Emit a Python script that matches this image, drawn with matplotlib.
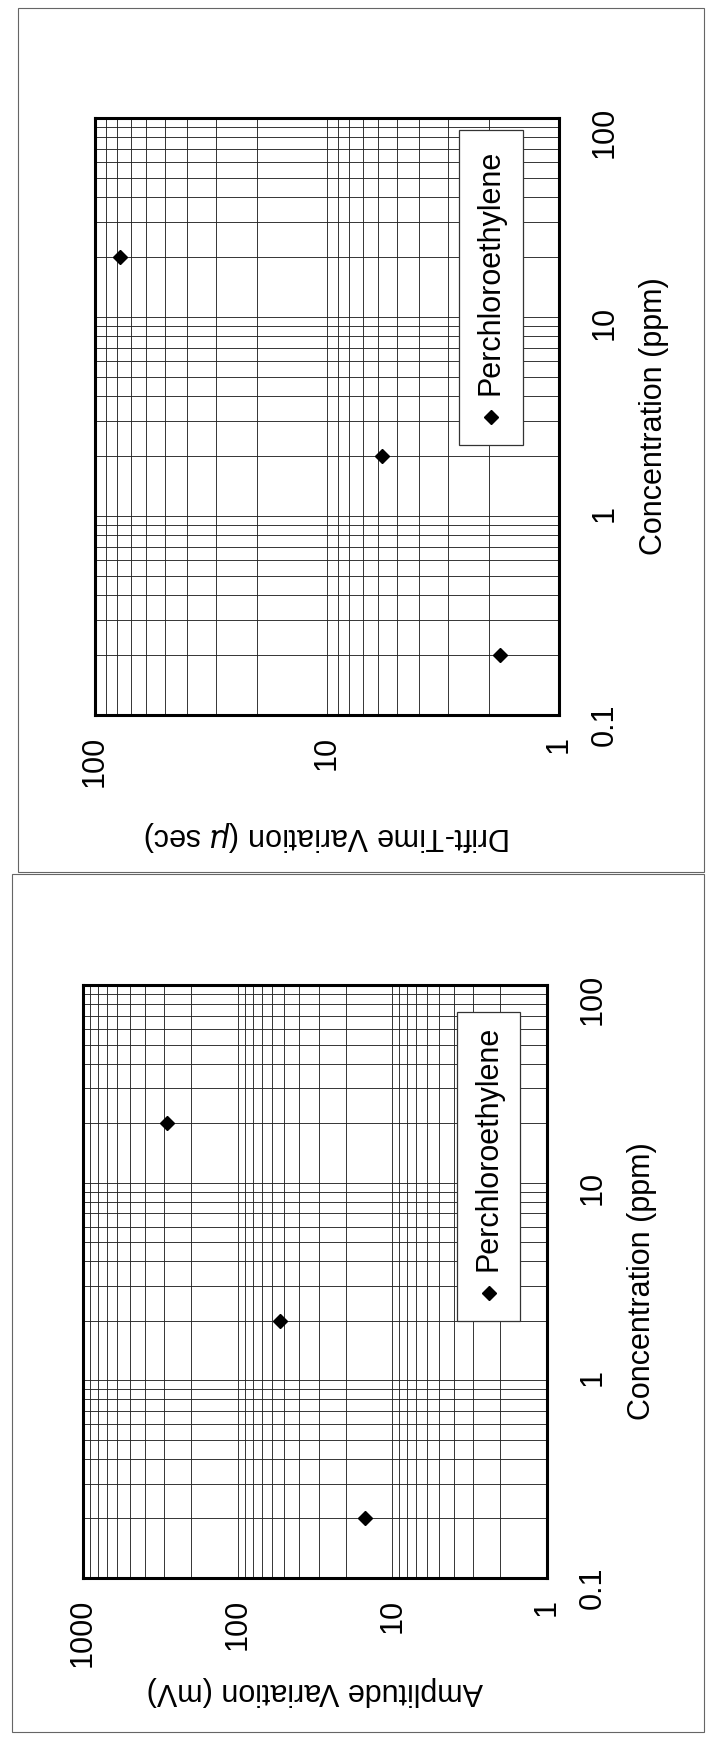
import matplotlib
matplotlib.use("Agg")
import matplotlib.pyplot as plt
from matplotlib.ticker import LogLocator, NullFormatter
from matplotlib.patches import Rectangle

plt.rcParams["font.family"] = ["Liberation Sans", "DejaVu Sans"]

# data (the page is rotated: concentration runs up the page)
concentration = [0.2, 2, 20]
drift_time = [1.8, 5.8, 78]
amplitude = [15, 53, 285]
series_name = "Perchloroethylene"

conc_ticks = [0.1, 1, 10, 100]
conc_labels = ["0.1", "1", "10", "100"]
drift_ticks = [1, 10, 100]
drift_labels = ["1", "10", "100"]
amp_ticks = [1, 10, 100, 1000]
amp_labels = ["1", "10", "100", "1000"]

W, H = 710, 1737
fig = plt.figure(figsize=(W / 100, H / 100), dpi=100)


def px_rect(left, right, top, bottom):
    return [left / W, 1 - bottom / H, (right - left) / W, (bottom - top) / H]


def panel(frame, xvals, xlim, xticks, xlabels, xlabel, xpad, legend_box):
    left, right, top, bottom = frame
    ax = fig.add_axes(px_rect(*frame))
    ax.set_xscale("log")
    ax.set_yscale("log")
    ax.plot(xvals, concentration, "D", color="black", ms=7, mew=1, zorder=4)
    ax.set_xlim(xlim)
    ax.set_ylim(0.1, 100)
    ax.set_xticks(xticks, xlabels)
    ax.set_yticks(conc_ticks, conc_labels)
    ax.xaxis.set_minor_locator(LogLocator(base=10, subs=range(2, 10)))
    ax.yaxis.set_minor_locator(LogLocator(base=10, subs=range(2, 10)))
    ax.xaxis.set_minor_formatter(NullFormatter())
    ax.yaxis.set_minor_formatter(NullFormatter())
    ax.yaxis.tick_right()
    ax.yaxis.set_label_position("right")
    ax.tick_params(which="both", length=0)
    ax.tick_params(axis="x", labelrotation=90, pad=15, labelsize=22)
    ax.tick_params(axis="y", labelrotation=90, pad=22, labelsize=22)
    ax.grid(True, which="both", color="0.15", lw=0.65)
    ax.set_axisbelow(True)
    for s in ax.spines.values():
        s.set_linewidth(2.2)
    ax.set_xlabel(xlabel, rotation=180, fontsize=22, labelpad=xpad)
    ax.set_ylabel("Concentration (ppm)", rotation=90, fontsize=22, labelpad=14)

    # rotated legend: box, key marker at the bottom, text reading upward
    bl, br, bt, bb = legend_box
    fx = lambda px: (px - left) / (right - left)
    fy = lambda py: 1 - (py - top) / (bottom - top)
    ax.add_patch(Rectangle((fx(bl), fy(bb)), fx(br) - fx(bl), fy(bt) - fy(bb),
                           transform=ax.transAxes, fc="white", ec="0.2", lw=0.9,
                           zorder=5))
    cx = fx((bl + br) / 2)
    ax.plot([cx], [fy(bb - 28)], "D", color="black", ms=7, transform=ax.transAxes,
            zorder=6, clip_on=False)
    ax.text(cx, fy(bb - 50), series_name, rotation=90, transform=ax.transAxes,
            ha="center", va="bottom", fontsize=22, zorder=6)
    return ax


# upper panel: drift time
panel((95, 559, 118, 715), drift_time, (100, 1), drift_ticks, drift_labels,
      "Drift-Time Variation ($\\mu$ sec)", 23, (459, 523, 130, 445))

# lower panel: amplitude
panel((83, 547, 985, 1578), amplitude, (1000, 1), amp_ticks, amp_labels,
      "Amplitude Variation (mV)", 6, (457, 520, 1012, 1321))

# scanned page borders
for x0, x1, y0, y1 in [(18, 704, 8, 872), (12, 704, 874, 1732)]:
    fig.add_artist(Rectangle((x0 / W, 1 - y1 / H), (x1 - x0) / W, (y1 - y0) / H,
                             transform=fig.transFigure, fill=False, ec="0.4", lw=0.8))

fig.savefig("out.png", dpi=100)
